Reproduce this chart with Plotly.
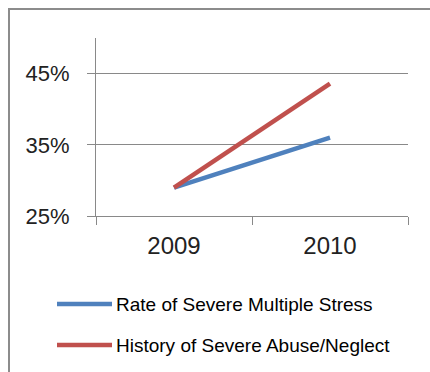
import plotly.graph_objects as go

# Chart data
years = ["2009", "2010"]
severe_stress = [29, 36]
severe_abuse = [29, 43.6]
series_names = ["Rate of Severe Multiple Stress", "History of Severe Abuse/Neglect"]
series_colors = ["#4F81BD", "#C0504D"]
y_ticks = [25, 35, 45]
y_tick_text = [f"{v}%" for v in y_ticks]

W, H = 430, 372
L, R, T, B = 96, 22, 38, 156
PW, PH = W - L - R, H - T - B


def px(x):
    return (x - L) / PW


def py(y):
    return (H - B - y) / PH


AXIS = "#898989"
FONT = "Liberation Sans"

fig = go.Figure()
for name, vals, color in zip(series_names, [severe_stress, severe_abuse], series_colors):
    fig.add_trace(go.Scatter(x=years, y=vals, mode="lines", name=name,
                             line=dict(color=color, width=4.5), showlegend=False))

shapes = [
    # chart-area frame
    dict(type="rect", xref="paper", yref="paper", x0=px(9), x1=px(445), y0=py(400), y1=py(9),
         line=dict(color="#8c8c8c", width=2), fillcolor="rgba(0,0,0,0)"),
]
annotations = []
for i, (name, color) in enumerate(zip(series_names, series_colors)):
    yy = 304 + i * 41
    shapes.append(dict(type="line", xref="paper", yref="paper", x0=px(57), x1=px(112),
                       y0=py(yy), y1=py(yy), line=dict(color=color, width=4.5)))
    annotations.append(dict(text=name, xref="paper", yref="paper", x=px(114), y=py(yy),
                            xanchor="left", yanchor="middle", showarrow=False,
                            font=dict(family=FONT, size=19, color="#000000")))

fig.update_layout(
    width=W, height=H,
    margin=dict(l=L, r=R, t=T, b=B, pad=0),
    paper_bgcolor="white", plot_bgcolor="white",
    font=dict(family=FONT, color="#222222"),
    shapes=shapes, annotations=annotations,
    xaxis=dict(type="category", range=[-0.5, 1.5], tickson="boundaries",
               ticks="outside", ticklen=8, tickcolor=AXIS, showline=True, linecolor=AXIS,
               linewidth=1, showgrid=False, zeroline=False,
               tickfont=dict(size=24, family=FONT, color="#222222"), ticklabelstandoff=8),
    yaxis=dict(range=[25, 50], tickvals=y_ticks, ticktext=y_tick_text,
               ticks="outside", ticklen=8, tickcolor=AXIS, showline=True, linecolor=AXIS,
               linewidth=1, showgrid=True, gridcolor=AXIS, gridwidth=1, zeroline=False,
               tickfont=dict(size=22, family=FONT, color="#222222"), ticklabelstandoff=13),
)

fig.write_html("out.html")
